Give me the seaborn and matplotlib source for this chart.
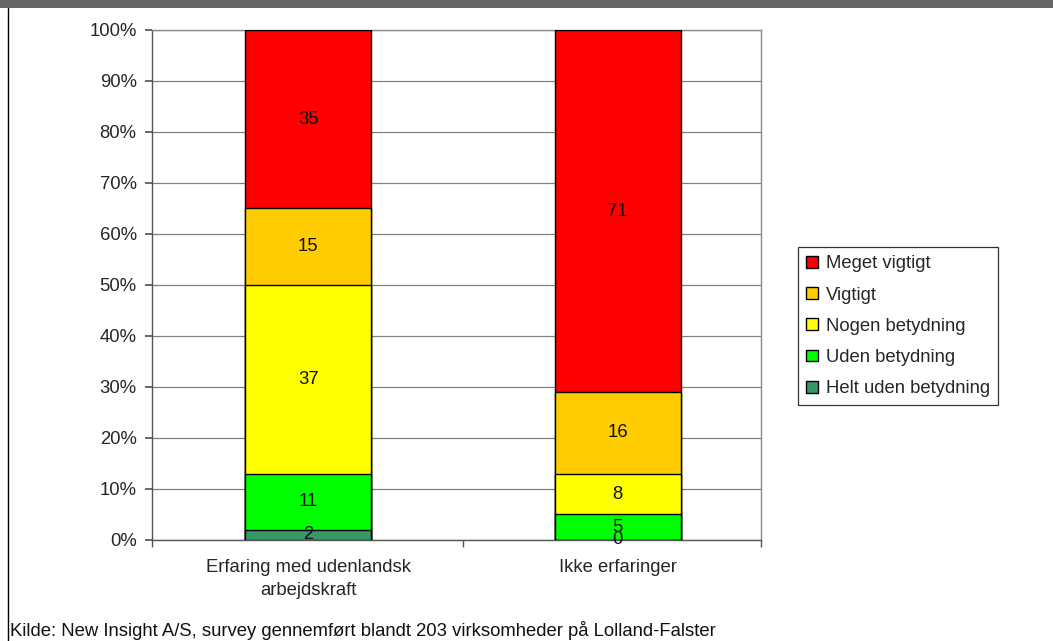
import numpy as np
import pandas as pd
import matplotlib
matplotlib.use("Agg")
import matplotlib.pyplot as plt
from matplotlib.patches import Patch, Rectangle
from matplotlib.lines import Line2D
import seaborn as sns

# Survey answers (percent of companies) per group
groups = ["Erfaring med udenlandsk\narbejdskraft", "Ikke erfaringer"]
levels = ["Helt uden betydning", "Uden betydning", "Nogen betydning", "Vigtigt", "Meget vigtigt"]
helt_uden = [2, 0]
uden = [11, 5]
nogen = [37, 8]
vigtigt = [15, 16]
meget = [35, 71]
colors = ["#339966", "#00FF00", "#FFFF00", "#FFCC00", "#FF0000"]

series = [helt_uden, uden, nogen, vigtigt, meget]

sns.set_theme(style="white")
plt.rcParams["font.family"] = ["Liberation Sans", "DejaVu Sans"]
FS = 13.3

fig = plt.figure(figsize=(10.53, 6.41), dpi=100)
ax = fig.add_axes([0.1443, 0.1576, 0.5784, 0.7956])

# cumulative tops, drawn tallest first so each segment overlays the previous
vals = np.array(series, dtype=float)
tops = np.cumsum(vals, axis=0)
bottoms = tops - vals

for i in range(len(levels) - 1, -1, -1):
    df = pd.DataFrame({"group": groups, "top": tops[i]})
    sns.barplot(data=df, x="group", y="top", color=colors[i], width=0.407,
                edgecolor="black", linewidth=1.0, saturation=1, ax=ax, zorder=3)

# value labels in the middle of each segment
for i in range(len(levels)):
    for j in range(len(groups)):
        ax.text(j, bottoms[i, j] + vals[i, j] / 2, f"{int(vals[i, j])}",
                ha="center", va="center", fontsize=FS, color="#111111", zorder=5)

x_lo, x_hi = -0.505, 1.463
ax.set_xlim(x_lo, x_hi)
ax.set_ylim(0, 100)
ax.set_yticks(np.arange(0, 101, 10))
ax.set_yticklabels([f"{v}%" for v in range(0, 101, 10)], fontsize=FS)
ax.set_xlabel("")
ax.set_ylabel("")
for lab in ax.get_xticklabels():
    lab.set_linespacing(1.4)
    lab.set_fontsize(FS)
ax.tick_params(axis="x", which="major", length=0, pad=14)
ax.set_xticks([x_lo, 0.5, x_hi], minor=True)
ax.tick_params(axis="x", which="minor", length=5, direction="out", color="#555555", bottom=True)
ax.tick_params(axis="y", length=5, direction="out", color="#555555", left=True, pad=6)
ax.yaxis.grid(True, color="#808080", linewidth=0.9, zorder=0)
ax.set_axisbelow(True)
for side in ["left", "bottom"]:
    ax.spines[side].set_color("#555555")
    ax.spines[side].set_linewidth(1.0)
for side in ["top", "right"]:
    ax.spines[side].set_color("#8a8a8a")
    ax.spines[side].set_linewidth(1.0)

handles = [Patch(facecolor=colors[i], edgecolor="black", linewidth=1.0, label=levels[i])
           for i in range(len(levels) - 1, -1, -1)]
leg = fig.legend(handles=handles, loc="upper left", bbox_to_anchor=(0.758, 0.6147),
                 fontsize=FS, frameon=True, fancybox=False, handlelength=0.6,
                 handleheight=0.6, handletextpad=0.45, labelspacing=0.77,
                 borderpad=0.45, borderaxespad=0)
leg.get_frame().set_edgecolor("black")
leg.get_frame().set_linewidth(0.9)

# header band and left border of the page
fig.patches.append(Rectangle((0, 1 - 8 / 641), 1, 8 / 641, transform=fig.transFigure,
                             facecolor="#666666", edgecolor="none", zorder=0))
fig.lines.append(Line2D([7.5 / 1053, 7.5 / 1053], [0, 1 - 8 / 641], transform=fig.transFigure,
                        color="black", linewidth=1.0))

fig.text(10 / 1053, 1 - 631 / 641,
         "Kilde: New Insight A/S, survey gennemført blandt 203 virksomheder på Lolland-Falster",
         fontsize=FS, ha="left", va="center", color="#111111")

fig.savefig("out.png", dpi=100)
